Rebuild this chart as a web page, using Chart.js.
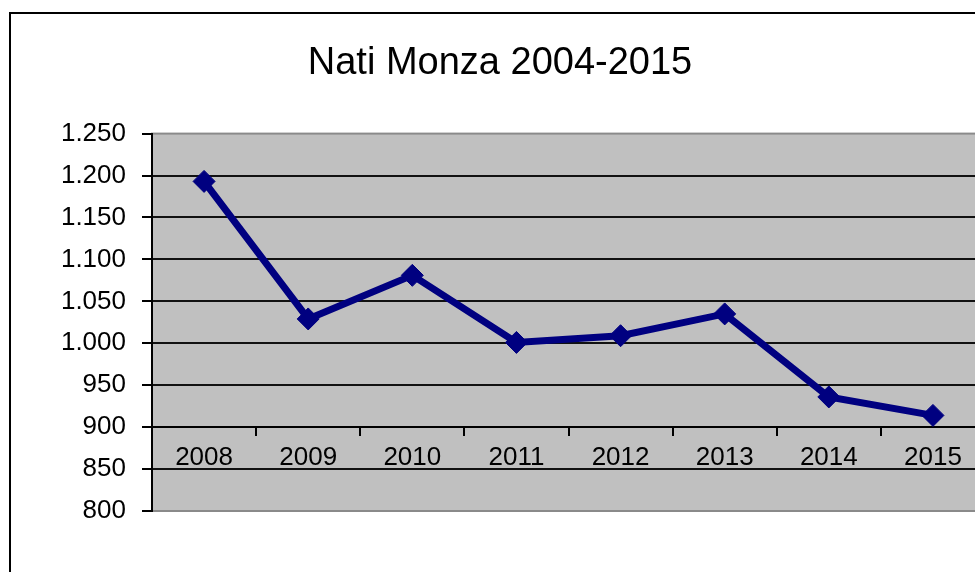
<!DOCTYPE html>
<html>
<head>
<meta charset="utf-8">
<script src="https://cdn.jsdelivr.net/npm/chart.js@4.4.1/dist/chart.umd.min.js"></script>
<style>
  html, body { margin: 0; padding: 0; background: #fff; overflow: hidden; }
  #wrap { width: 1000px; height: 572px; }
</style>
</head>
<body>
<div id="wrap"><canvas id="natiChart" width="1000" height="572"></canvas></div>
<script>
// Nati Monza
const years = ['2008', '2009', '2010', '2011', '2012', '2013', '2014', '2015'];
const births = [1193, 1029, 1081, 1001, 1009, 1035, 936, 914];
const yMin = 800;
const yMax = 1250;
const yStep = 50;
const axisCross = 900;

const FONT = "'Liberation Sans', Arial, sans-serif";

// Italian thousands separator: 1250 -> 1.250
function formatIt(value) {
  return value.toLocaleString('it-IT').replace(/\s/g, '.');
}

// grey plot area + outer chart border
const plotBackground = {
  id: 'plotBackground',
  beforeDraw(chart) {
    const { ctx, chartArea } = chart;
    ctx.save();
    ctx.fillStyle = '#fff';
    ctx.fillRect(0, 0, chart.width, chart.height);
    ctx.strokeStyle = '#000';
    ctx.lineWidth = 2;
    ctx.strokeRect(10, 13, 2000, 2000);
    ctx.fillStyle = '#c0c0c0';
    ctx.fillRect(chartArea.left, chartArea.top, chartArea.right - chartArea.left, chartArea.bottom - chartArea.top);
    ctx.strokeStyle = '#8a8a8a';
    ctx.lineWidth = 2;
    ctx.strokeRect(chartArea.left, chartArea.top, chartArea.right - chartArea.left, chartArea.bottom - chartArea.top);
    ctx.restore();
  }
};

function renderNatiChart(canvasId) {
  const ctx = document.getElementById(canvasId);

  const chartConfig = {
    type: 'line',
    data: {
      labels: years,
      datasets: [
        {
          label: 'Nati',
          data: births,
          borderColor: '#000080',
          backgroundColor: '#000080',
          borderWidth: 7,
          tension: 0,
          fill: false,
          pointStyle: 'rectRot',
          pointRadius: 11,
          pointBorderWidth: 1,
          pointBackgroundColor: '#000080',
          pointBorderColor: '#000080'
        }
      ]
    },
    options: {
      responsive: false,
      animation: false,
      layout: {
        padding: { left: 15, right: 15, top: 0, bottom: 61 }
      },
      plugins: {
        legend: { display: false },
        tooltip: { enabled: false },
        title: {
          display: true,
          text: 'Nati Monza 2004-2015',
          color: '#000',
          font: { family: FONT, size: 38, weight: 'normal' },
          padding: { top: 41, bottom: 47 }
        }
      },
      scales: {
        x: {
          type: 'category',
          position: { y: axisCross },
          offset: true,
          grid: {
            display: true,
            offset: true,
            drawOnChartArea: false,
            drawTicks: true,
            tickLength: 8,
            color: '#000',
            lineWidth: 2
          },
          border: { display: true, color: '#000', width: 2 },
          ticks: {
            color: '#000',
            padding: 7,
            maxRotation: 0,
            font: { family: FONT, size: 26 }
          }
        },
        y: {
          type: 'linear',
          position: 'left',
          min: yMin,
          max: yMax,
          afterFit(scale) { scale.width = 137; },
          grid: {
            color: (c) => (c.tick && (c.tick.value === yMin || c.tick.value === yMax)) ? 'rgba(0,0,0,0)' : '#111',
            tickColor: '#000',
            lineWidth: 2,
            tickLength: 10
          },
          border: { display: true, color: '#000', width: 2 },
          ticks: {
            stepSize: yStep,
            color: '#000',
            padding: 16,
            font: { family: FONT, size: 26 },
            callback: function(value) {
              return formatIt(value);
            }
          }
        }
      }
    },
    plugins: [plotBackground]
  };

  return new Chart(ctx, chartConfig);
}

renderNatiChart('natiChart');
</script>
</body>
</html>
